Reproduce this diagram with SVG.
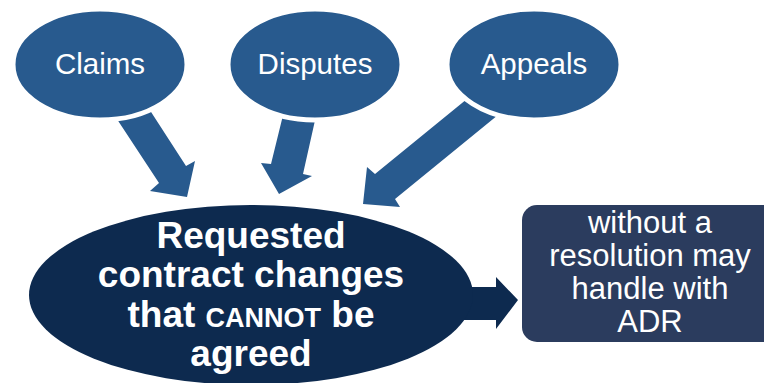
<svg xmlns="http://www.w3.org/2000/svg" width="764" height="383" viewBox="0 0 764 383">
<style>
.src{fill:#285a8e;stroke:#ffffff;stroke-width:5}
.arr{fill:#285a8e}
.main{fill:#0d2a4f}
.box{fill:#2b3c5e}
.t{font-family:"Liberation Sans",Arial,sans-serif;fill:#ffffff;text-anchor:middle}
.ts{font-size:29.5px}
.tb{font-size:37px;font-weight:bold}
.tr{font-size:31px}
</style>
<rect width="764" height="383" fill="#ffffff"/>
<g id="connectors">
<polygon class="arr" points="109,107 142,98 186,166 195,161 187,197 150,191 159,183"/>
<polygon class="arr" points="286,103 318,107 303,174 312,176 279,194 261,163 271,164"/>
<polygon class="arr" points="478,90 509,106 395,199 400,207 363,204 367,167 375,174"/>
<polygon class="main" points="440,287 496,287 496,277 518,300 496,329 496,320 440,320"/>
</g>
<g id="claims">
<ellipse class="src" cx="100" cy="64.5" rx="87" ry="55.5"/>
<text class="t ts" x="100" y="74">Claims</text>
</g>
<g id="disputes">
<ellipse class="src" cx="315" cy="64.5" rx="87" ry="55.5"/>
<text class="t ts" x="315" y="74">Disputes</text>
</g>
<g id="appeals">
<ellipse class="src" cx="534" cy="64.5" rx="87" ry="55.5"/>
<text class="t ts" x="534" y="74">Appeals</text>
</g>
<g id="requested">
<ellipse class="main" cx="251" cy="295" rx="222" ry="90"/>
<text class="t tb" x="251" y="248">Requested</text>
<text class="t tb" x="251" y="287">contract changes</text>
<text class="t tb" x="251" y="327">that <tspan font-size="27px">CANNOT</tspan> be</text>
<text class="t tb" x="251" y="366">agreed</text>
</g>
<g id="adr">
<rect class="box" x="522" y="205" width="256" height="137" rx="15" ry="15"/>
<text class="t tr" x="650" y="233">without a</text>
<text class="t tr" x="650" y="266">resolution may</text>
<text class="t tr" x="650" y="299">handle with</text>
<text class="t tr" x="650" y="332">ADR</text>
</g>
</svg>
